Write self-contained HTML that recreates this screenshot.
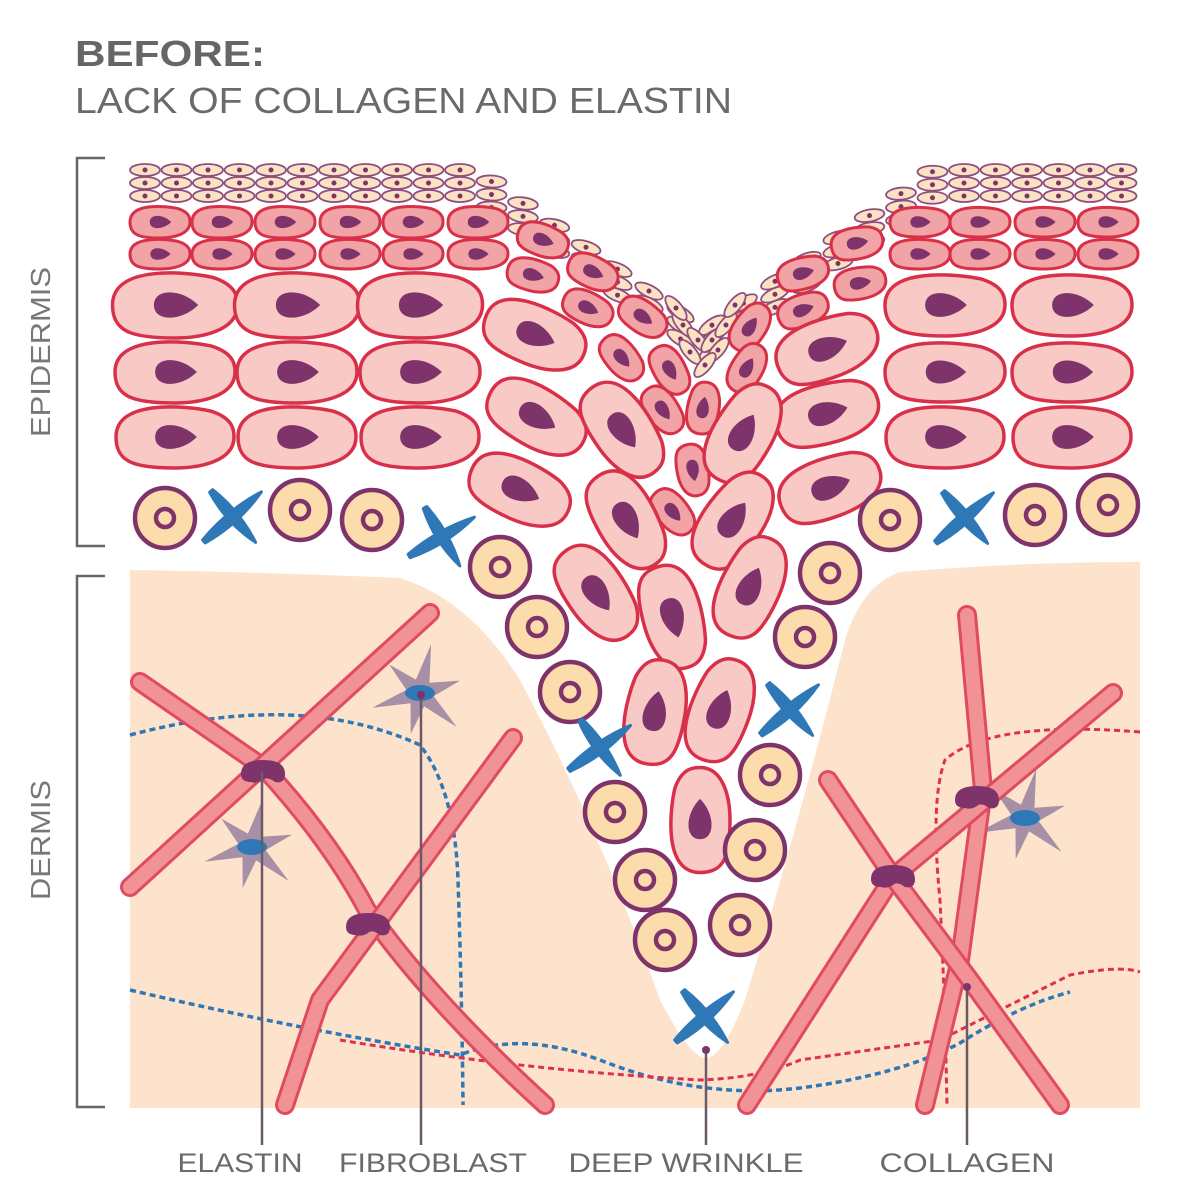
<!DOCTYPE html>
<html><head><meta charset="utf-8"><style>
html,body{margin:0;padding:0;background:#fff;}
svg{display:block;font-family:"Liberation Sans",sans-serif;}
</style></head><body>
<svg id="s" width="1200" height="1200" viewBox="0 0 1200 1200" xmlns="http://www.w3.org/2000/svg">
<rect width="1200" height="1200" fill="#fff"/>
<text x="75" y="66" font-size="36" font-weight="bold" fill="#666" textLength="190" lengthAdjust="spacingAndGlyphs">BEFORE:</text>
<text x="75" y="113" font-size="36" fill="#6a6a6a" textLength="657" lengthAdjust="spacingAndGlyphs">LACK OF COLLAGEN AND ELASTIN</text>
<path d="M105 158 H77 V546 H105" fill="none" stroke="#666" stroke-width="2.5"/>
<path d="M105 576 H77 V1107 H105" fill="none" stroke="#666" stroke-width="2.5"/>
<text transform="translate(50,352) rotate(-90)" text-anchor="middle" font-size="28" fill="#777" textLength="170" lengthAdjust="spacingAndGlyphs">EPIDERMIS</text>
<text transform="translate(50,840) rotate(-90)" text-anchor="middle" font-size="28" fill="#777" textLength="120" lengthAdjust="spacingAndGlyphs">DERMIS</text>
<path d="M130 570 Q260 572 400 578 Q470 600 520 680 Q600 830 660 1000 Q690 1058 706 1058 Q722 1058 745 1000 Q800 820 845 640 Q862 585 900 572 Q1020 562 1140 562 V1108 H130 Z" fill="#fde3cb"/>
<g id="fib"></g>
<g id="cells"></g>
<g stroke="#6a5a66" stroke-width="2.5">
<line x1="262" y1="772" x2="262" y2="1145"/>
<line x1="421" y1="695" x2="421" y2="1145"/>
<line x1="706" y1="1050" x2="706" y2="1145"/>
<line x1="967" y1="987" x2="967" y2="1145"/>
</g>
<circle cx="706" cy="1050" r="4" fill="#7e336b"/>
<circle cx="967" cy="987" r="4" fill="#7e336b"/>
<circle cx="421" cy="695" r="4" fill="#7e336b"/>
<g font-size="27" fill="#6a6a6a" text-anchor="middle">
<text x="240" y="1172" textLength="125" lengthAdjust="spacingAndGlyphs">ELASTIN</text>
<text x="433" y="1172" textLength="188" lengthAdjust="spacingAndGlyphs">FIBROBLAST</text>
<text x="686" y="1172" textLength="235" lengthAdjust="spacingAndGlyphs">DEEP WRINKLE</text>
<text x="967" y="1172" textLength="175" lengthAdjust="spacingAndGlyphs">COLLAGEN</text>
</g>
</svg>
<script>
var NS="http://www.w3.org/2000/svg";
function el(p,t,a){var e=document.createElementNS(NS,t);for(var k in a)e.setAttribute(k,a[k]);p.appendChild(e);return e;}
var C=document.getElementById('cells'),F=document.getElementById('fib');
function fiber(d){el(F,'path',{d:d,fill:'none',stroke:'#e04a62','stroke-width':20,'stroke-linecap':'round','stroke-linejoin':'round'});
el(F,'path',{d:d,fill:'none',stroke:'#f19294','stroke-width':14,'stroke-linecap':'round','stroke-linejoin':'round'});}
function dash(d,c,w){el(F,'path',{d:d,fill:'none',stroke:c,'stroke-width':w||3,'stroke-dasharray':'6 4'});}
function star(x,y){var pts=[],n=6;for(var i=0;i<n*2;i++){var a=i*Math.PI/n-0.3,r=i%2?14:(i%4?50:42);pts.push((x+r*Math.cos(a)).toFixed(1)+','+(y+r*Math.sin(a)).toFixed(1));}
el(F,'polygon',{points:pts.join(' '),fill:'#a790a6'});el(F,'ellipse',{cx:x,cy:y,rx:15,ry:8,fill:'#2e78b8'});}
dash('M130 735 Q300 690 420 745 Q455 790 458 880 Q462 1000 463 1105','#2e78b8',3.5);
dash('M130 990 Q300 1030 460 1055 Q520 1030 600 1060 Q700 1100 800 1088 Q900 1075 960 1043 Q1020 1005 1070 992','#2e78b8',3.5);
dash('M340 1040 Q520 1070 700 1080 Q760 1078 800 1060 Q870 1050 940 1040 Q1000 1010 1070 975 Q1120 965 1140 972','#e0304f',3);
dash('M1140 732 Q990 720 945 760 Q930 800 940 900 Q945 1000 947 1107','#e0304f',3);
star(420,693);star(252,847);star(1025,818);
fiber('M140 682 L263 767 Q330 840 367 910 Q430 1000 545 1105');
fiber('M430 613 L130 887');
fiber('M513 738 L320 1000 L285 1105');
fiber('M967 615 L983 790 L960 960 L925 1105');
fiber('M1113 693 L893 877 L747 1105');
fiber('M828 780 L893 877 L970 980 L1060 1105');
function knot(x,y){el(F,'path',{d:'M'+(x-22)+' '+(y+2)+' q0 -14 22 -14 q22 0 22 14 q0 10 -10 8 q-8 -6 -12 -2 q-6 4 -12 2 q-10 0 -10 -8z',fill:'#7e336b'});}
knot(263,772);knot(368,925);knot(977,798);knot(893,877);
function cell(x,y,w,h,r,dark){var g=el(C,'g',{transform:'translate('+x+','+y+') rotate('+(r||0)+')'});
el(g,'path',{d:'M'+(-w/2)+' 0 C'+(-w/2)+' '+(-h*0.62)+' '+(w*0.1)+' '+(-h/2)+' '+(w*0.3)+' '+(-h*0.42)+' C'+(w*0.5)+' '+(-h*0.3)+' '+(w/2)+' '+(-h*0.1)+' '+(w/2)+' 0 C'+(w/2)+' '+(h*0.4)+' '+(w*0.2)+' '+(h/2)+' 0 '+(h/2)+' C'+(-w*0.35)+' '+(h/2)+' '+(-w/2)+' '+(h*0.4)+' '+(-w/2)+' 0Z',
fill:dark?'#f2a3a5':'#f9c9c6',stroke:'#d9304a','stroke-width':dark?3:3.5});
var n=Math.min(w,h)*0.32;el(g,'path',{d:'M'+(-n)+' 0 C'+(-n)+' '+(-n*0.8)+' '+(n*0.3)+' '+(-n*0.8)+' '+(n*1.1)+' 0 C'+(n*0.3)+' '+(n*0.8)+' '+(-n)+' '+(n*0.8)+' '+(-n)+' 0Z',fill:'#7e336b'});}
function tiny(x,y,r){var g=el(C,'g',{transform:'translate('+x+','+y+') rotate('+(r||0)+')'});
el(g,'ellipse',{rx:15,ry:6,fill:'#fbe2c2',stroke:'#8e4f80','stroke-width':1.8});el(g,'circle',{r:2.5,fill:'#7e336b'});}
function basal(x,y){el(C,'circle',{cx:x,cy:y,r:30,fill:'#fcdcab',stroke:'#7e336b','stroke-width':4.5});el(C,'circle',{cx:x,cy:y,r:9,fill:'#fcdcab',stroke:'#7e336b','stroke-width':4.5});}
function X(x,y,r){var g=el(C,'g',{transform:'translate('+x+','+y+') rotate('+(r||0)+')'});
var a={fill:'#2e78b8',stroke:'#2e78b8','stroke-width':3,'stroke-linejoin':'round'};
a.d='M-38 -2 Q0 -9 38 -1 Q0 9 -38 2Z';el(g,'path',a);
var b={fill:'#2e78b8',stroke:'#2e78b8','stroke-width':3,'stroke-linejoin':'round'};
b.d='M-2 -34 Q-9 0 1 34 Q9 0 2 -34Z';el(g,'path',b);}
var rows=[170,183,196];
for(var ri=0;ri<3;ri++){for(var x=145;x<=1125;x+=31.5){
 var dx=Math.abs(x-705),y=rows[ri],r=0;
 if(dx<230){var t=1-dx/230;y+=t*160;r=(x<705?1:-1)*35*t;}
 tiny(x,y,r);}}
[[683,325],[698,340],[712,340],[726,325],[690,352],[718,350],[705,365],[676,308],[735,305]].forEach(function(p){tiny(p[0],p[1],p[0]<705?50:-50);});
[160,222,285,350,413,478].forEach(function(x){cell(x,222,60,32,0,1);cell(x,254,60,30,0,1);});
[920,980,1045,1108].forEach(function(x){cell(x,222,60,30,0,1);cell(x,254,60,30,0,1);});
[[543,240,20],[533,275,15],[593,272,25],[588,308,25],[643,317,35],[622,358,50],[670,370,60],[663,410,55],[703,408,-80],[693,470,80],[673,512,50],[750,327,-55],[747,368,-60],[803,310,-20],[803,273,-15],[857,243,-10],[860,283,-10]].forEach(function(p){cell(p[0],p[1],52,32,p[2],1);});
[175,297,420].forEach(function(x){cell(x,305,125,66,0);cell(x,372,120,62,0);cell(x,437,118,62,0);});
[945,1072].forEach(function(x){cell(x,305,120,62,0);cell(x,372,120,60,0);cell(x,437,118,62,0);});
[[535,335,22],[537,417,30],[623,430,55],[520,490,25],[627,520,60],[597,593,55],[673,617,75],[827,348,-20],[827,413,-15],[743,433,-60],[830,487,-20],[733,520,-55],[750,587,-65],[655,712,-80],[720,710,-70],[700,820,-90]].forEach(function(p){cell(p[0],p[1],105,60,p[2]);});
[165,300,372,890,1035,1108,500,537,570,615,645,665,830,805,770,755,740].forEach(function(x,i){
 var ys=[518,510,520,520,515,505,567,627,692,812,880,940,573,637,775,850,925];basal(x,ys[i]);});
X(233,517,-40);X(442,537,-30);X(965,518,-40);X(600,748,-35);X(790,710,-40);X(705,1017,-40);
</script>
</body></html>
